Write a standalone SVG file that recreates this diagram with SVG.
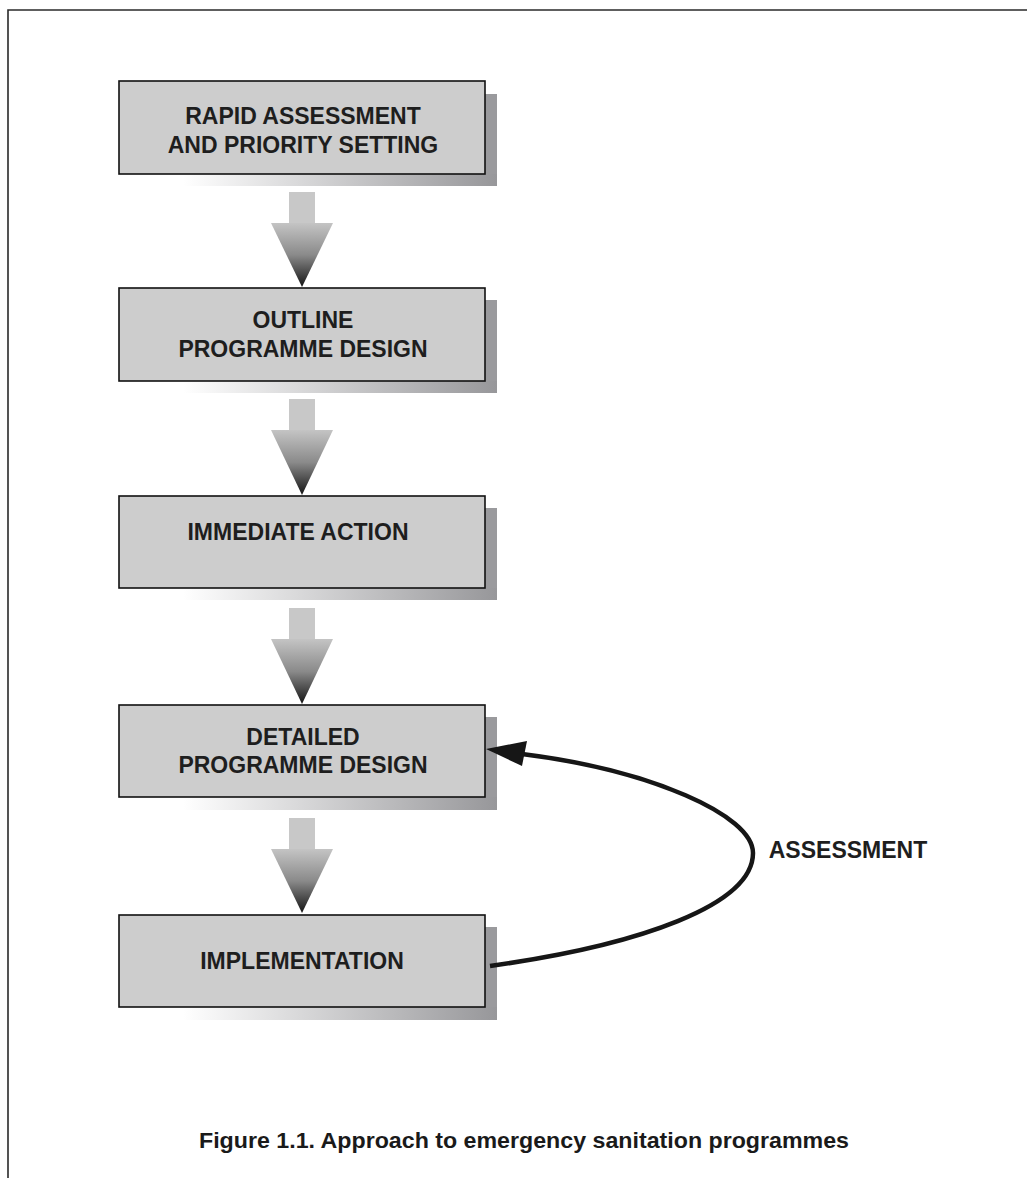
<svg xmlns="http://www.w3.org/2000/svg" width="1027" height="1178" viewBox="0 0 1027 1178">
<defs>
<linearGradient id="shadowGrad" x1="0" y1="0" x2="1" y2="0">
<stop offset="0" stop-color="#ffffff"/>
<stop offset="1" stop-color="#97979a"/>
</linearGradient>
<linearGradient id="triGrad" x1="0" y1="0" x2="0" y2="1">
<stop offset="0" stop-color="#c4c4c4"/>
<stop offset="0.5" stop-color="#8a8a8a"/>
<stop offset="1" stop-color="#141414"/>
</linearGradient>
<style>
.frame{fill:none;stroke:#2a2a2a;stroke-width:1.6}
.box{fill:#cdcdcd;stroke:#111;stroke-width:1.6}
.shr{fill:#9a9a9d}
.shb{fill:url(#shadowGrad)}
.lbl{font-family:"Liberation Sans",Arial,sans-serif;font-weight:bold;font-size:23px;fill:#1e1e1e;text-anchor:middle}
.stem{fill:#c8c8c8}
.tri{fill:url(#triGrad)}
.curve{fill:none;stroke:#161616;stroke-width:4.5}
.cap{font-family:"Liberation Sans",Arial,sans-serif;font-weight:bold;font-size:22px;fill:#1a1a1a;text-anchor:middle}
</style>
</defs>
<rect width="1027" height="1178" fill="#ffffff"/>
<path class="frame" d="M1027,10 H8 V1178"/>

<g id="node-rapid-assessment">
<rect class="shr" x="485" y="94" width="12" height="92"/>
<rect class="shb" x="183" y="174" width="314" height="12"/>
<rect class="box" x="119" y="81" width="366" height="93"/>
<text class="lbl" x="303" y="124">RAPID ASSESSMENT</text>
<text class="lbl" x="303" y="153">AND PRIORITY SETTING</text>
</g>

<g id="node-outline-design">
<rect class="shr" x="485" y="300" width="12" height="93"/>
<rect class="shb" x="183" y="381" width="314" height="12"/>
<rect class="box" x="119" y="288" width="366" height="93"/>
<text class="lbl" x="303" y="328">OUTLINE</text>
<text class="lbl" x="303" y="357">PROGRAMME DESIGN</text>
</g>

<g id="node-immediate-action">
<rect class="shr" x="485" y="508" width="12" height="92"/>
<rect class="shb" x="183" y="588" width="314" height="12"/>
<rect class="box" x="119" y="496" width="366" height="92"/>
<text class="lbl" x="298" y="540">IMMEDIATE ACTION</text>
</g>

<g id="node-detailed-design">
<rect class="shr" x="485" y="717" width="12" height="93"/>
<rect class="shb" x="183" y="797" width="314" height="13"/>
<rect class="box" x="119" y="705" width="366" height="92"/>
<text class="lbl" x="303" y="745">DETAILED</text>
<text class="lbl" x="303" y="773">PROGRAMME DESIGN</text>
</g>

<g id="node-implementation">
<rect class="shr" x="485" y="927" width="12" height="93"/>
<rect class="shb" x="183" y="1007" width="314" height="13"/>
<rect class="box" x="119" y="915" width="366" height="92"/>
<text class="lbl" x="302" y="969">IMPLEMENTATION</text>
</g>

<g id="connectors">
<g id="arrow-1">
<rect class="stem" x="289" y="192" width="26" height="31"/>
<polygon class="tri" points="271,223 333,223 302,287"/>
</g>
<g id="arrow-2">
<rect class="stem" x="289" y="399" width="26" height="31"/>
<polygon class="tri" points="271,430 333,430 302,495"/>
</g>
<g id="arrow-3">
<rect class="stem" x="289" y="608" width="26" height="31"/>
<polygon class="tri" points="271,639 333,639 302,704"/>
</g>
<g id="arrow-4">
<rect class="stem" x="289" y="818" width="26" height="31"/>
<polygon class="tri" points="271,849 333,849 302,913"/>
</g>
<g id="assessment-loop">
<path class="curve" d="M490,966 C640,945 753,905 753,853 C753,815 650,770 522,754"/>
<polygon fill="#161616" points="486,749 527,741 522,766"/>
</g>
</g>

<text class="lbl" x="848" y="858">ASSESSMENT</text>
<text class="cap" x="524" y="1148" textLength="650" lengthAdjust="spacingAndGlyphs">Figure 1.1. Approach to emergency sanitation programmes</text>
</svg>
